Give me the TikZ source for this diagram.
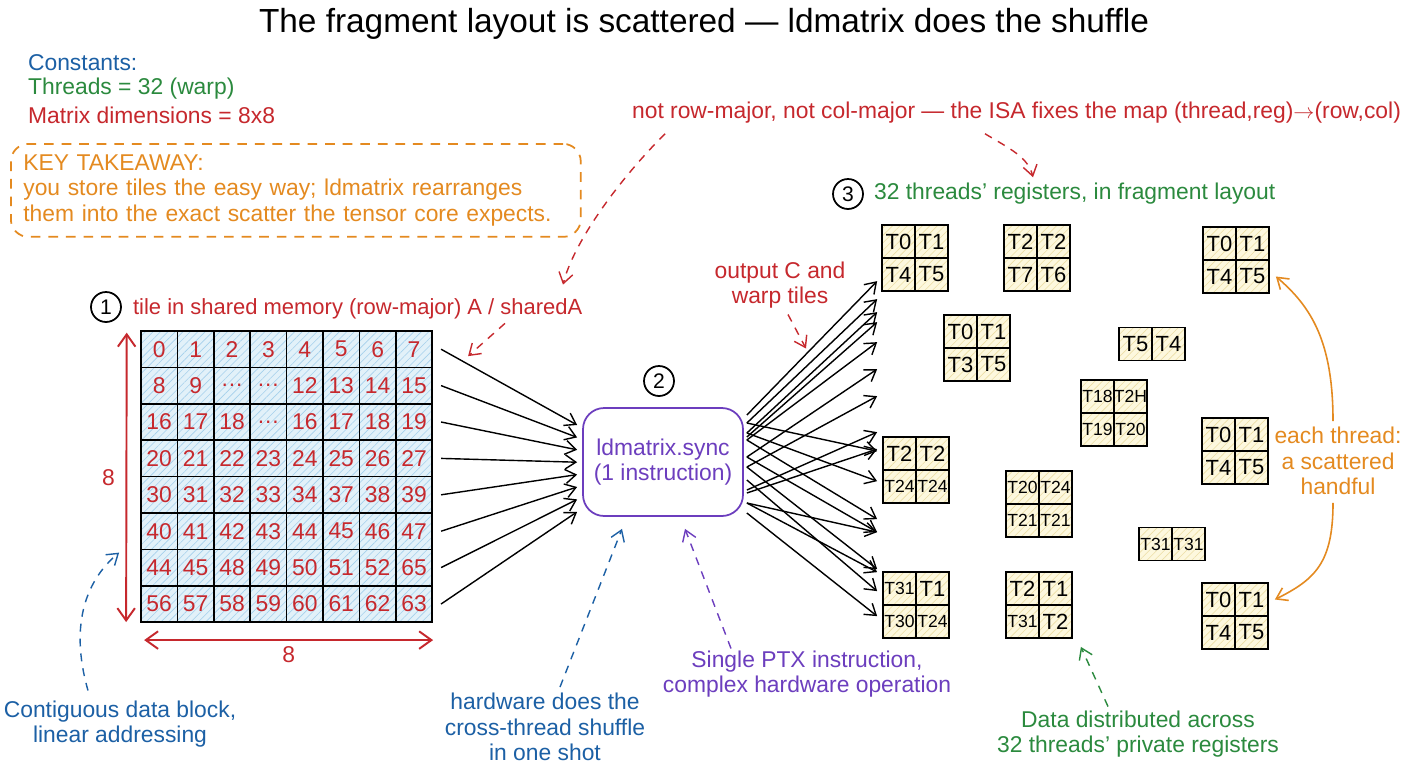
\documentclass[tikz,border=0pt]{standalone}
\usepackage{fontspec}
\setmainfont{Liberation Sans}
\usetikzlibrary{arrows.meta, positioning, calc, patterns.meta}
\definecolor{ired}{RGB}{198,40,45}
\definecolor{iblue}{RGB}{28,96,165}
\definecolor{igreen}{RGB}{43,138,62}
\definecolor{iorange}{RGB}{228,138,32}
\definecolor{ipurple}{RGB}{108,62,190}
\definecolor{cellbg}{RGB}{226,241,249}
\definecolor{cellhatch}{RGB}{165,208,236}
\definecolor{regbg}{RGB}{253,248,222}
\definecolor{reghatch}{RGB}{236,222,165}
\newcommand{\tsm}{\fontsize{10}{11}\selectfont}

\begin{document}
\begin{tikzpicture}[x=0.02cm,y=-0.02cm,
  ttl/.style={font=\fontsize{19}{22}\selectfont,inner sep=1pt},
  txt/.style={font=\fontsize{13}{14.5}\selectfont,align=center,inner sep=1pt},
  num/.style={circle,draw,line width=1pt,minimum size=0.6cm,inner sep=0pt,font=\fontsize{12}{12}\selectfont},
  cell/.style={rectangle,draw,line width=1pt,minimum size=0.728cm,inner sep=0pt,preaction={fill=cellbg},
    pattern={Lines[angle=45,distance=3pt,line width=0.35pt]},pattern color=cellhatch,text=ired,font=\fontsize{13}{13}\selectfont},
  reg/.style={rectangle,draw,line width=1pt,minimum size=0.66cm,inner sep=0pt,preaction={fill=regbg},
    pattern={Lines[angle=45,distance=3pt,line width=0.35pt]},pattern color=reghatch,font=\fontsize{12.5}{13}\selectfont},
  arr/.style={-{Straight Barb[length=6pt,width=8pt]},line width=0.8pt},
  dim/.style={{Straight Barb[length=7pt,width=10pt]}-{Straight Barb[length=7pt,width=10pt]},line width=1.1pt,ired},
  note/.style={-{Straight Barb[length=6pt,width=8pt]},dash pattern=on 4.5pt off 4pt,line width=0.8pt}
]
  \useasboundingbox[fill=white] (0,0) rectangle (1408,768);

  \node[ttl](ttl) at (704,24) {The fragment layout is scattered — ldmatrix does the shuffle};

  \node[txt,text=iblue,anchor=west](cst) at (26,63) {Constants:};
  \node[txt,text=igreen,anchor=west](thr) at (26,89) {Threads = 32 (warp)};
  \node[txt,text=ired,anchor=west](dimn) at (26,115) {Matrix dimensions = 8x8};
  \node[txt,draw=iorange,dash pattern=on 5.5pt off 4.5pt,line width=1pt,rounded corners=10pt,text=iorange,align=left,
    minimum width=11.4cm,minimum height=1.86cm,text width=10.9cm,anchor=north west](key) at (10,143) {
    KEY TAKEAWAY:\\
    you store tiles the easy way; ldmatrix rearranges\\
    them into the exact scatter the tensor core expects.
  };

  \node[num](n1) at (106,307) {1};
  \node[txt,text=ired,anchor=west,font=\fontsize{12.5}{14}\selectfont](l1) at (131,309) {tile in shared memory (row-major) A / sharedA};
  \foreach \row [count=\r from 0] in {{0,1,2,3,4,5,6,7},{8,9,\ldots,\ldots,12,13,14,15},{16,17,18,\ldots,16,17,18,19},
      {20,21,22,23,24,25,26,27},{30,31,32,33,34,37,38,39},{40,41,42,43,44,45,46,47},{44,45,48,49,50,51,52,65},{56,57,58,59,60,61,62,63}}
    \foreach \v [count=\c from 0] in \row
      \node[cell](g-\r-\c) at ({159.2+36.4*\c},{349.2+36.4*\r}) {\v};
  \draw[dim]($(g-0-0.north west)+(-14,2)$)-- node[txt,text=ired,left=5pt]{8}($(g-7-0.south west)+(-14,-1)$);
  \draw[dim]($(g-7-0.south west)+(4,17)$)-- node[txt,text=ired,below=2pt]{8}($(g-7-7.south east)+(0,17)$);

  \node[num](n2) at (659,381) {2};
  \node[txt,draw=ipurple,line width=1pt,rounded corners=12pt,minimum width=3.2cm,minimum height=2.16cm,text=ipurple](ld) at (663,462) {ldmatrix.sync\\(1 instruction)};
  \foreach \r in {0,...,7}
    \draw[arr]($(g-\r-7.east)+(8,0)$)--($(ld.west)+(-5,{-37+12.4*\r})$);

  \node[num](n3) at (848,194) {3};
  \node[txt,text=igreen,anchor=west](l3) at (872,194) {32 threads' registers, in fragment layout};
  \foreach \n/\x/\y/\a/\b/\c/\d in {A/882/225/T0/T1/T4/T5, B/1004/225/T2/T2/T7/T6, C/944/315/T0/T1/T3/T5,
      E/1081/380/{\tsm T18}/{\tsm T2H}/{\tsm T19}/{\tsm T20}, F/1203/227/T0/T1/T4/T5, G/1202/418/T0/T1/T4/T5,
      H/883/437/T2/T2/{\tsm T24}/{\tsm T24}, I/1006/471/{\tsm T20}/{\tsm T24}/{\tsm T21}/{\tsm T21},
      K/883/572/{\tsm T31}/T1/{\tsm T30}/{\tsm T24}, L/1006/572/T2/T1/{\tsm T31}/T2, M/1202/583/T0/T1/T4/T5}{
    \node[reg](t\n-1) at ({\x+16.5},{\y+16.5}) {\a};
    \node[reg](t\n-2) at ({\x+49.5},{\y+16.5}) {\b};
    \node[reg](t\n-3) at ({\x+16.5},{\y+49.5}) {\c};
    \node[reg](t\n-4) at ({\x+49.5},{\y+49.5}) {\d};
  }
  \foreach \n/\x/\y/\a/\b in {D/1119/327/T5/T4, J/1139/527/{\tsm T31}/{\tsm T31}}{
    \node[reg](t\n-1) at ({\x+16.5},{\y+17}) {\a};
    \node[reg](t\n-2) at ({\x+49.5},{\y+17}) {\b};
  }
  \foreach \a/\b in {-47/57,-39/75,-29/88,-25/98,-22/118,-5/145,5/172,-39/227,-29/257,28/208,31/225,
      -22/295,-5/308,41/308,5/345,18/367,51/392,41/348}
    \draw[arr]($(ld.east)+(3,\a)$)--($(tA-1.north west)+(-4,\b)$);

  \node[txt,text=ired,anchor=west](nrm) at (630,113) {not row-major, not col-major — the ISA fixes the map (thread,reg)$\rightarrow$(row,col)};
  \node[txt,text=ired](oc) at (780,285) {output C and\\warp tiles};
  \node[txt,text=ipurple](ptx) at (807,674) {Single PTX instruction,\\complex hardware operation};
  \node[txt,text=iblue](hw) at (545,727) {hardware does the\\cross-thread shuffle\\in one shot};
  \node[txt,text=iblue](cont) at (120,724) {Contiguous data block,\\linear addressing};
  \node[txt,text=igreen](dd) at (1138,734) {Data distributed across\\32 threads' private registers};
  \node[txt,text=iorange](ea) at (1338,461) {each thread:\\a scattered\\handful};

  \draw[note,ired]($(nrm.south west)+(35,8)$) .. controls +(-50,50) and +(10,-40) .. ($(l1.north west)+(432,-12)$);
  \draw[note,ired]($(l1.south west)+(374,2)$)--($(g-0-7.north east)+(35,26)$);
  \draw[note,ired]($(nrm.south west)+(355,8)$) .. controls +(25,15) and +(-5,-20) .. ($(l3.north west)+(161,-4)$);
  \draw[note,ired]($(oc.south)+(8,4)$)--($(oc.south)+(26,38)$);
  \draw[note,ipurple]($(ptx.north)+(-76,0)$)--($(ld.south)+(22,12)$);
  \draw[note,iblue]($(hw.north)+(15,-4)$)--($(ld.south)+(-41,12)$);
  \draw[note,iblue]($(cont.north)+(-32,-8)$) .. controls +(-20,-70) and +(-30,25) .. ($(g-6-0.west)+(-21,-15)$);
  \draw[note,igreen]($(dd.north)+(-30,-2)$)--($(tL-4.south east)+(8,8)$);
  \draw[arr,iorange,line width=0.9pt]($(ea.north)+(-5,-4)$) .. controls +(0,-80) and +(35,30) .. ($(tF-4.east)+(6,0)$);
  \draw[arr,iorange,line width=0.9pt]($(ea.south)+(-5,6)$) .. controls +(0,60) and +(40,-20) .. ($(tM-2.east)+(6,0)$);
\end{tikzpicture}
\end{document}
